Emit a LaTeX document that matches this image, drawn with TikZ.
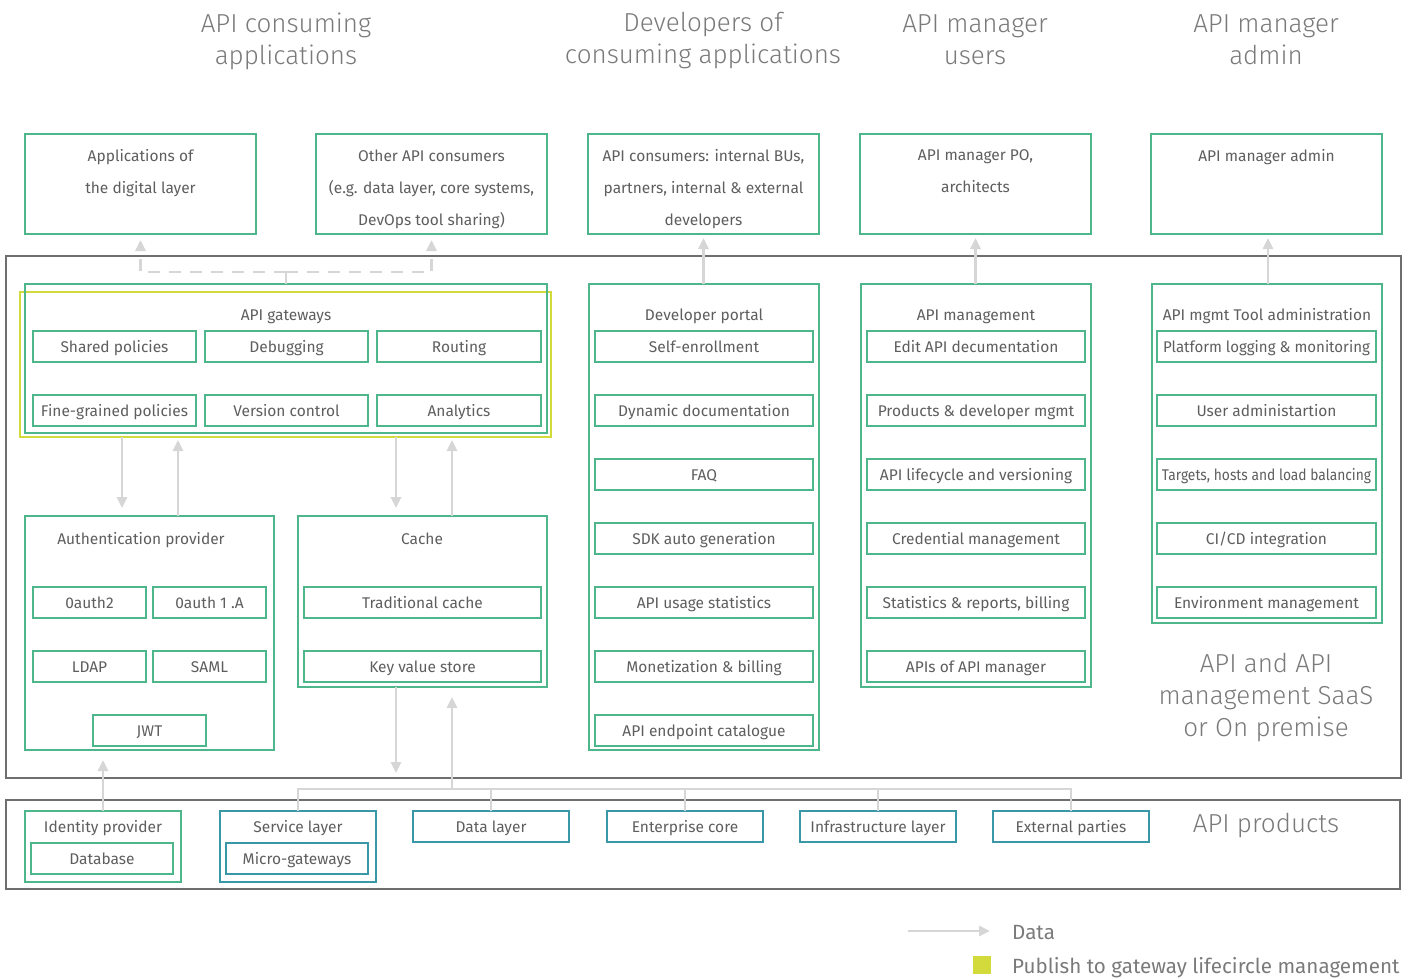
\documentclass[tikz,border=0pt]{standalone}
\usepackage{fontspec}
\usepackage{graphicx}
\setmainfont{Fira Sans}
\newfontfamily\lightfont{Fira Sans Light}
\usetikzlibrary{arrows.meta,calc}

\definecolor{gframe}{HTML}{4DB68A}
\definecolor{tframe}{HTML}{3A97A5}
\definecolor{yframe}{HTML}{D3DA3B}
\definecolor{dframe}{HTML}{6E6E6E}
\definecolor{flow}{HTML}{D6D6D6}
\definecolor{txt}{HTML}{5E5E5E}
\definecolor{ttl}{HTML}{7A7A7A}

\newcommand\cond[2][0.88]{\scalebox{#1}[1]{#2}}

% box from corner (x1,y1) to corner (x2,y2), in pixel units
\newcommand\bx[7][]{%
  \node[#1, oneline, minimum width={(#5-#3)*1pt}, minimum height={(#6-#4)*1pt},
        inner sep=0pt, outer sep=0pt] (#2) at ({(#3+#5)/2},{(#4+#6)/2}) {#7};}

\tikzset{
  every node/.style={text=txt, font=\fontsize{15.5}{18}\selectfont},
  oneline/.style={text height=14pt, text depth=1.5pt},
  gbox/.style={draw=gframe, line width=2.6pt},
  tbox/.style={draw=tframe, line width=2.6pt},
  ybox/.style={draw=yframe, line width=2.6pt},
  frame/.style={draw=dframe, line width=2.6pt},
  heading/.style={text=ttl, align=center, inner sep=0pt,
                  font=\lightfont\fontsize{26}{32}\selectfont},
  caption/.style={inner sep=0pt, align=center, font=\fontsize{15.5}{32}\selectfont},
  legend/.style={anchor=west, inner sep=0pt, text=ttl,
                 text height=14pt, text depth=4.5pt, font=\fontsize{20.6}{24}\selectfont},
  flowarrow/.style={draw=flow, line width=2.6pt,
                    -{Triangle[width=10pt,length=11pt]}},
  flowline/.style={draw=flow, line width=2.6pt},
  flowdash/.style={draw=flow, line width=2.6pt, dash pattern=on 12pt off 9pt},
}

\begin{document}
\begin{tikzpicture}[x=1pt, y=-1pt]
\useasboundingbox (0,0) rectangle (1416,979);

% ---- column headings
\node[heading] (h1) at (286,41) {API consuming\\applications};
\node[heading] (h2) at (703,41) {Developers of\\consuming applications};
\node[heading] (h3) at (975,40) {API manager\\users};
\node[heading] (h4) at (1266,40) {API manager\\admin};

% ---- consumer boxes
\bx[gbox]{A}{25}{134}{256}{234}{}
\bx[gbox]{B}{316}{134}{547}{234}{}
\bx[gbox]{C}{588}{134}{819}{234}{}
\bx[gbox]{D}{860}{134}{1091}{234}{}
\bx[gbox]{E}{1151}{134}{1382}{234}{}
\node[caption] (At) at (140.5,173) {Applications of\\the digital layer};
\node[caption] (Bt) at (431.5,189) {Other API consumers\\(e.g. data layer, core systems,\\DevOps tool sharing)};
\node[caption] (Ct) at (703.5,189) {API consumers: internal BUs,\\partners, internal \& external\\developers};
\node[caption] (Dt) at (975.5,171) {API manager PO,\\architects};
\node[caption, oneline] (Et) at (1266.5,155) {API manager admin};

% ---- platform and products frames
\bx[frame]{plat}{6}{256}{1401}{778}{}
\bx[frame]{prod}{6}{800}{1400}{889}{}

% ---- API gateways
\bx[ybox]{ygw}{20}{292}{551}{437}{}
\bx[gbox]{gw}{25}{284}{547}{433}{}
\node[oneline] (gwT) at (286,314) {API gateways};
\bx[gbox]{g1}{33}{331}{196}{362}{Shared policies}
\bx[gbox]{g2}{205}{331}{368}{362}{Debugging}
\bx[gbox]{g3}{377}{331}{541}{362}{Routing}
\bx[gbox]{g4}{33}{395}{196}{426}{Fine-grained policies}
\bx[gbox]{g5}{205}{395}{368}{426}{Version control}
\bx[gbox]{g6}{377}{395}{541}{426}{Analytics}

% ---- Authentication provider
\bx[gbox]{auth}{25}{516}{274}{750}{}
\node[oneline] (authT) at (141,538) {Authentication provider};
\bx[gbox]{a1}{33}{587}{146}{618}{0auth2}
\bx[gbox]{a2}{153}{587}{266}{618}{0auth 1 .A}
\bx[gbox]{a3}{33}{651}{146}{682}{LDAP}
\bx[gbox]{a4}{153}{651}{266}{682}{SAML}
\bx[gbox]{a5}{93}{715}{206}{746}{JWT}

% ---- Cache
\bx[gbox]{cache}{298}{516}{547}{687}{}
\node[oneline] (cacheT) at (422,538) {Cache};
\bx[gbox]{c1}{304}{587}{541}{618}{Traditional cache}
\bx[gbox]{c2}{304}{651}{541}{682}{Key value store}

% ---- Developer portal
\bx[gbox]{dp}{589}{284}{819}{750}{}
\node[oneline] (dpT) at (704,314) {Developer portal};
\bx[gbox]{d1}{595}{331}{813}{362}{Self-enrollment}
\bx[gbox]{d2}{595}{395}{813}{426}{Dynamic documentation}
\bx[gbox]{d3}{595}{459}{813}{490}{FAQ}
\bx[gbox]{d4}{595}{523}{813}{554}{SDK auto generation}
\bx[gbox]{d5}{595}{587}{813}{618}{API usage statistics}
\bx[gbox]{d6}{595}{651}{813}{682}{Monetization \& billing}
\bx[gbox]{d7}{595}{715}{813}{746}{API endpoint catalogue}

% ---- API management
\bx[gbox]{am}{861}{284}{1091}{687}{}
\node[oneline] (amT) at (976,314) {API management};
\bx[gbox]{m1}{867}{331}{1085}{362}{Edit API decumentation}
\bx[gbox]{m2}{867}{395}{1085}{426}{Products \& developer mgmt}
\bx[gbox]{m3}{867}{459}{1085}{490}{API lifecycle and versioning}
\bx[gbox]{m4}{867}{523}{1085}{554}{Credential management}
\bx[gbox]{m5}{867}{587}{1085}{618}{Statistics \& reports, billing}
\bx[gbox]{m6}{867}{651}{1085}{682}{APIs of API manager}

% ---- API mgmt tool administration
\bx[gbox]{adm}{1152}{284}{1382}{623}{}
\node[oneline] (admT) at (1267,314) {API mgmt Tool administration};
\bx[gbox]{t1}{1157}{331}{1376}{362}{\cond[0.97]{Platform logging \& monitoring}}
\bx[gbox]{t2}{1157}{395}{1376}{426}{User administartion}
\bx[gbox]{t3}{1157}{459}{1376}{490}{\cond[0.89]{Targets, hosts and load balancing}}
\bx[gbox]{t4}{1157}{523}{1376}{554}{CI/CD integration}
\bx[gbox]{t5}{1157}{587}{1376}{618}{Environment management}

\node[heading] (saas) at (1266,697) {API and API\\management SaaS\\or On premise};

% ---- API products
\bx[gbox]{idp}{25}{811}{181}{882}{}
\node[oneline] (idpT) at (103,826) {Identity provider};
\bx[gbox]{db}{31}{843}{173}{874}{Database}
\bx[tbox]{svc}{220}{811}{376}{882}{}
\node[oneline] (svcT) at (298,826) {Service layer};
\bx[tbox]{mg}{226}{843}{368}{874}{Micro-gateways}
\bx[tbox]{data}{413}{811}{569}{842}{Data layer}
\bx[tbox]{ent}{607}{811}{763}{842}{Enterprise core}
\bx[tbox]{infra}{800}{811}{956}{842}{Infrastructure layer}
\bx[tbox]{ext}{993}{811}{1149}{842}{External parties}
\node[heading] (prodT) at (1266,825) {API products};

% ---- connectors: gateways to consumers
\coordinate (split) at (286,272);
\draw[flowdash] (gw.north) -- (split);
\draw[flowdash, -{Triangle[width=10pt,length=11pt]}, shorten >=6pt] (split) -| (A.south);
\draw[flowdash, -{Triangle[width=10pt,length=11pt]}, shorten >=6pt] (split) -| (B.south);

% ---- connectors: platform to user groups
\draw[flowarrow, shorten >=4pt] (dp.north -| C.south) -- (C.south);
\draw[flowarrow, shorten >=4pt] (am.north -| D.south) -- (D.south);
\draw[flowarrow, shorten >=4pt] (1268,0 |- adm.north) -- (1268,0 |- E.south);

% ---- gateways <-> auth and cache
\draw[flowarrow, shorten >=8pt] (122,0 |- ygw.south) -- (122,0 |- auth.north);
\draw[flowarrow, shorten >=3pt] (178,0 |- auth.north) -- (178,0 |- ygw.south);
\draw[flowarrow, shorten >=8pt] (396,0 |- ygw.south) -- (396,0 |- cache.north);
\draw[flowarrow, shorten >=3pt] (452,0 |- cache.north) -- (452,0 |- ygw.south);

% ---- cache <-> products bus
\coordinate (bus) at (452,789);
\draw[flowline] (svc.north) |- (ext.north |- bus) -- (ext.north);
\draw[flowline] (data.north) -- (data.north |- bus);
\draw[flowline] (ent.north) -- (ent.north |- bus);
\draw[flowline] (infra.north) -- (infra.north |- bus);
\draw[flowarrow, shorten >=16pt] (396,0 |- cache.south) -- (396,0 |- bus);
\draw[flowarrow, shorten >=10pt] (bus) -- (452,0 |- cache.south);

% ---- identity provider to auth
\draw[flowarrow, shorten >=10pt] (idp.north) -- (idp.north |- auth.south);

% ---- legend
\coordinate (lgA) at (908,931);
\coordinate (lgB) at (990,931);
\draw[flowarrow] (lgA) -- (lgB);
\node[legend] (lgData) at (1012,935) {Data};
\node[fill=yframe, minimum size=18pt, inner sep=0pt] (lgSq) at (982,965) {};
\node[legend] (lgPub) at (1012,969) {Publish to gateway lifecircle management};
\end{tikzpicture}
\end{document}
